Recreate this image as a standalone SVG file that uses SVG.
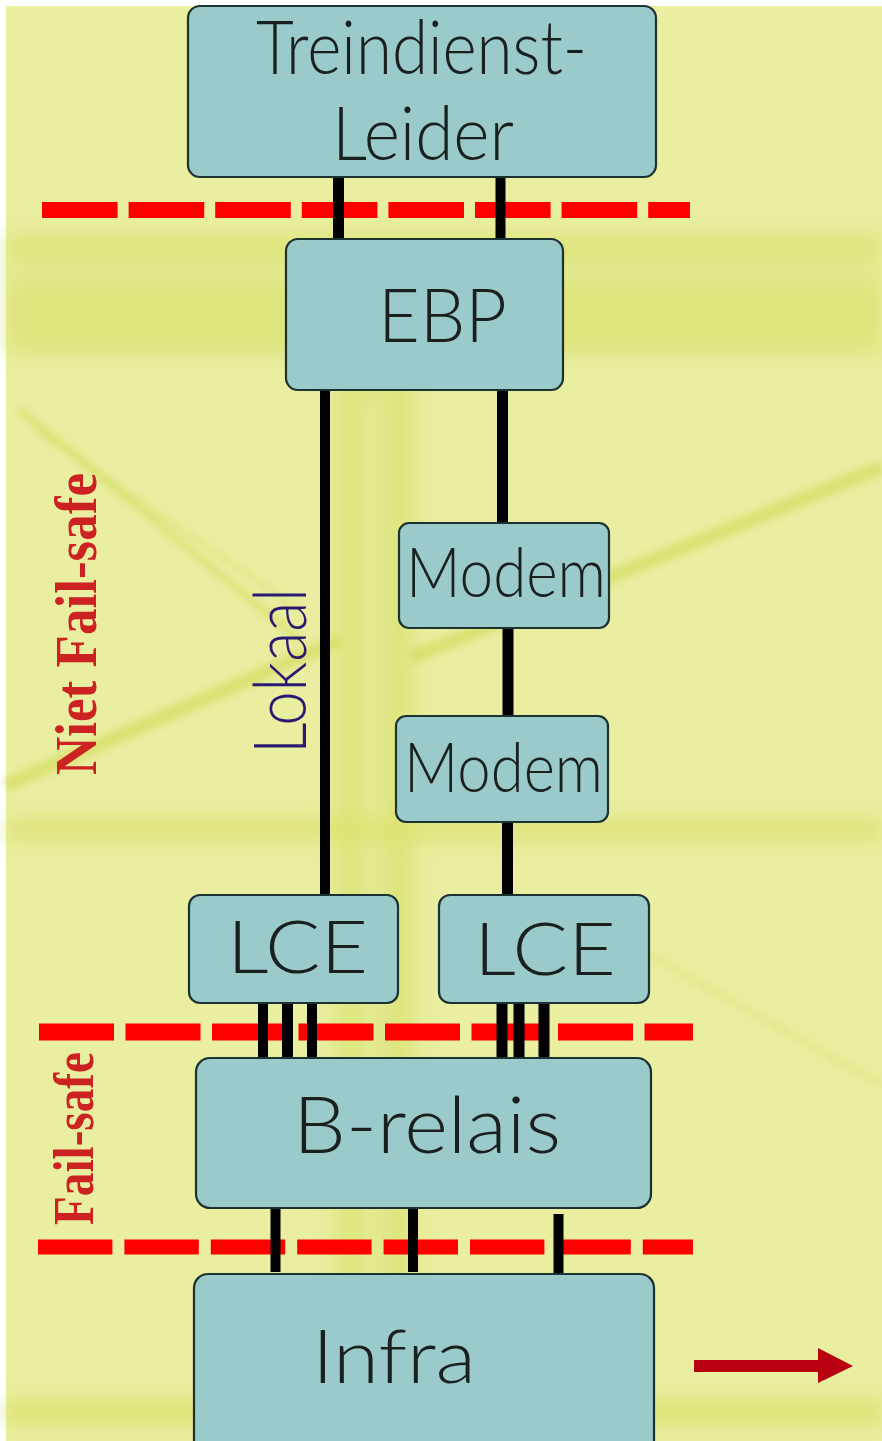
<svg xmlns="http://www.w3.org/2000/svg" width="882" height="1441" viewBox="0 0 882 1441">
<defs>
<style>
.box{fill:#9acaca;stroke:#1c3232;stroke-width:2.2}
.lbl{font-family:Lato,"Liberation Sans",Arial,sans-serif;font-weight:300;fill:#1a2020}
.wire{stroke:#000;fill:none}
.sep{stroke:#ff0000;fill:none}
.side{font-family:"Liberation Serif","Times New Roman",serif;font-weight:bold;fill:#cc2222}
</style>
<filter id="blur" x="-20%" y="-20%" width="140%" height="140%"><feGaussianBlur stdDeviation="9"/></filter>
<filter id="blur2" x="-20%" y="-20%" width="140%" height="140%"><feGaussianBlur stdDeviation="3"/></filter>
</defs>
<rect x="0" y="0" width="882" height="1441" fill="#ffffff"/>
<g id="background">
<rect x="6" y="6" width="876" height="1435" fill="#e9eea0"/>
<g filter="url(#blur)">
<rect x="6" y="234" width="876" height="120" fill="#dae16e" opacity="0.7"/>
<rect x="6" y="262" width="876" height="18" fill="#eaf0a6" opacity="0.5"/>
<rect x="336" y="380" width="78" height="1061" fill="#d6de62" opacity="0.55"/>
<rect x="364" y="400" width="18" height="1041" fill="#edf2ae" opacity="0.5"/>
<rect x="6" y="818" width="876" height="24" fill="#d8df66" opacity="0.6"/>
<rect x="6" y="1398" width="876" height="28" fill="#d6dd5e" opacity="0.6"/>
</g>
<g filter="url(#blur2)" fill="none" stroke="#d6dd62">
<path d="M6 785 L340 640" stroke-width="14" opacity="0.7"/>
<path d="M410 658 L882 467" stroke-width="14" opacity="0.7"/>
<path d="M20 410 L300 640" stroke-width="8" opacity="0.6"/>
<path d="M35 430 L300 610" stroke-width="4" opacity="0.5"/>
<path d="M640 950 L882 1085" stroke-width="5" opacity="0.4"/>
</g>
</g>
<g id="separators">
<line class="sep" x1="42" y1="210" x2="690" y2="210" stroke-width="16" stroke-dasharray="75.6 11"/>
<line class="sep" x1="39" y1="1032" x2="693" y2="1032" stroke-width="17" stroke-dasharray="75 11.5"/>
<line class="sep" x1="38" y1="1247" x2="693" y2="1247" stroke-width="15" stroke-dasharray="74.4 12"/>
</g>
<g id="connectors">
<line class="wire" x1="338.5" y1="177" x2="338.5" y2="242" stroke-width="11"/>
<line class="wire" x1="500.5" y1="177" x2="500.5" y2="240" stroke-width="10"/>
<line class="wire" x1="325" y1="390" x2="325" y2="896" stroke-width="10"/>
<line class="wire" x1="502.5" y1="390" x2="502.5" y2="524" stroke-width="11"/>
<line class="wire" x1="508" y1="628" x2="508" y2="717" stroke-width="11"/>
<line class="wire" x1="507.5" y1="822" x2="507.5" y2="896" stroke-width="11"/>
<line class="wire" x1="263" y1="1003" x2="263" y2="1061" stroke-width="10"/>
<line class="wire" x1="287.5" y1="1003" x2="287.5" y2="1057" stroke-width="11"/>
<line class="wire" x1="312" y1="1003" x2="312" y2="1061" stroke-width="10"/>
<line class="wire" x1="502" y1="1003" x2="502" y2="1061" stroke-width="11"/>
<line class="wire" x1="519" y1="1003" x2="519" y2="1061" stroke-width="11"/>
<line class="wire" x1="544" y1="1003" x2="544" y2="1057" stroke-width="11"/>
<line class="wire" x1="275.5" y1="1208" x2="275.5" y2="1272" stroke-width="10"/>
<line class="wire" x1="413" y1="1208" x2="413" y2="1272" stroke-width="10"/>
<line class="wire" x1="558.5" y1="1214" x2="558.5" y2="1276" stroke-width="10"/>
</g>
<g id="treindienstleider">
<rect class="box" x="188" y="6" width="468" height="171" rx="12"/>
<text class="lbl" x="256" y="74" font-size="74" textLength="331" lengthAdjust="spacingAndGlyphs">Treindienst-</text>
<text class="lbl" x="332" y="160" font-size="74" textLength="182" lengthAdjust="spacingAndGlyphs">Leider</text>
</g>
<g id="ebp">
<rect class="box" x="286" y="239" width="277" height="151" rx="12"/>
<text class="lbl" x="378" y="342" font-size="75" textLength="129" lengthAdjust="spacingAndGlyphs">EBP</text>
</g>
<g id="modem1">
<rect class="box" x="399" y="523" width="210" height="105" rx="10"/>
<text class="lbl" x="406" y="597" font-size="69" textLength="200" lengthAdjust="spacingAndGlyphs">Modem</text>
</g>
<g id="modem2">
<rect class="box" x="396" y="716" width="212" height="106" rx="10"/>
<text class="lbl" x="404" y="792" font-size="69" textLength="199" lengthAdjust="spacingAndGlyphs">Modem</text>
</g>
<g id="lce1">
<rect class="box" x="189" y="895" width="209" height="108" rx="11"/>
<text class="lbl" x="227" y="973" font-size="72" textLength="141" lengthAdjust="spacingAndGlyphs">LCE</text>
</g>
<g id="lce2">
<rect class="box" x="439" y="895" width="210" height="108" rx="11"/>
<text class="lbl" x="474" y="975" font-size="72" textLength="142" lengthAdjust="spacingAndGlyphs">LCE</text>
</g>
<g id="brelais">
<rect class="box" x="196" y="1058" width="455" height="150" rx="14"/>
<text class="lbl" x="293" y="1153" font-size="78" textLength="268" lengthAdjust="spacingAndGlyphs">B-relais</text>
</g>
<g id="infra">
<rect class="box" x="194" y="1274" width="460" height="200" rx="14"/>
<text class="lbl" x="312" y="1383" font-size="75" textLength="164" lengthAdjust="spacingAndGlyphs">Infra</text>
</g>
<g id="labels">
<text transform="translate(306,754) rotate(-90)" font-family="Lato,Liberation Sans,Arial,sans-serif" font-weight="300" font-size="72" fill="#2b1a72" textLength="166" lengthAdjust="spacingAndGlyphs">Lokaal</text>
<text class="side" transform="translate(96,775) rotate(-90)" font-size="60" textLength="302" lengthAdjust="spacingAndGlyphs">Niet Fail-safe</text>
<text class="side" transform="translate(93,1225) rotate(-90)" font-size="56" textLength="173" lengthAdjust="spacingAndGlyphs">Fail-safe</text>
</g>
<g id="arrow">
<path d="M694 1360 H818 V1348 L853 1366 L818 1383 V1372 H694 Z" fill="#b80010"/>
</g>
</svg>
